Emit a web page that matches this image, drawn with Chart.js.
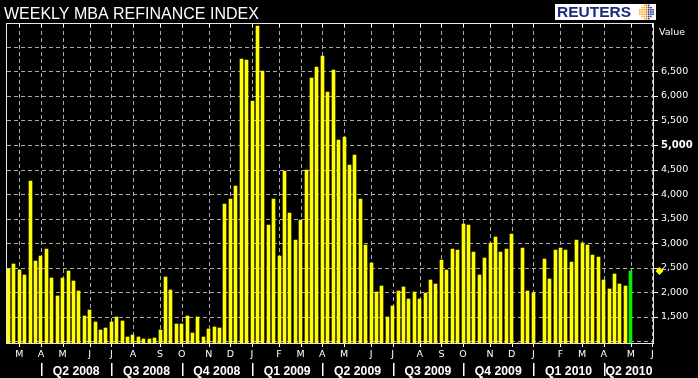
<!DOCTYPE html>
<html>
<head>
<meta charset="utf-8">
<title>Weekly MBA Refinance Index</title>
<script src="https://cdn.jsdelivr.net/npm/chart.js@4.4.1/dist/chart.umd.min.js"></script>
<style>
  html, body { margin: 0; padding: 0; background: #000; }
  #wrap { width: 698px; height: 378px; position: relative; }
</style>
</head>
<body>
<div id="wrap"><canvas id="myChart"></canvas></div>
<script>
// weekly periods (week ending Friday), first one in the chart
const firstWeek = '2008-02-22';
const weekCount = 120;

// MBA refinance index (null = no reading that week)
const refiIndex = [
  2480, 2570, 2450, 2350, 4270, 2630, 2735, 2880, 2295, 1925,
  2295, 2435, 2225, 2030, 1515, 1635, 1390, 1230, 1270, 1395,
  1495, 1415, 1090, 1130, 1090, 1040, 1040, 1070, 1230, 2310,
  2050, 1350, 1350, 1515, 1170, 1495, 1090, 1245, 1290, 1270,
  3800, 3900, 4170, 6755, 6735, 5905, 7415, 6500, 3375, 3900,
  2735, 4470, 3620, 3070, 3470, 4490, 6370, 6590, 6815, 6070,
  6530, 5100, 5170, 4600, 4805, 3900, 2960, 2605, 2000, 2120,
  1495, 1720, 2025, 2100, 1860, 2000, 1860, 1985, 2245, 2165,
  2660, 2450, 2880, 2860, 3390, 3370, 2815, 2355, 2700, 3005,
  3130, 2815, 2880, 3185, null, 2900, 2020, 1980, null, 2675,
  2265, 2860, 2900, 2860, 2610, 3060, 3000, 2960, 2755, 2715,
  2245, 2060, 2365, 2165, 2120, 2430
];

const yTicks = [1000, 1500, 2000, 2500, 3000, 3500, 4000, 4500, 5000, 5500, 6000, 6500, 7000];
const yLabelled = [1500, 2000, 2500, 3000, 3500, 4000, 4500, 5000, 5500, 6000, 6500];
const monthLetters = ['J', 'F', 'M', 'A', 'M', 'J', 'J', 'A', 'S', 'O', 'N', 'D'];
const quarters = ['Q2 2008', 'Q3 2008', 'Q4 2008', 'Q1 2009', 'Q2 2009', 'Q3 2009', 'Q4 2009', 'Q1 2010', 'Q2 2010'];

// week dates
const weeks = [];
const d0 = new Date(firstWeek + 'T00:00:00Z');
for (let i = 0; i < weekCount; i++) {
  weeks.push(new Date(d0.getTime() + i * 7 * 86400000).toISOString().slice(0, 10));
}
const monthOf = s => +s.slice(5, 7) - 1;

// first week of every month / quarter
const monthStarts = [];
for (let i = 1; i < weeks.length; i++) {
  if (monthOf(weeks[i]) !== monthOf(weeks[i - 1])) monthStarts.push(i);
}
const quarterStarts = monthStarts.filter(i => monthOf(weeks[i]) % 3 === 0);

const lastIdx = refiIndex.length - 1;
const tickFont = '"DejaVu Sans", Verdana, sans-serif';
const armFont = '"Liberation Sans", Arial, sans-serif';
const gridGray = '#aaaaaa';

// grid first, then the bars on top of it, then the furniture
const overlay = {
  id: 'overlay',
  beforeDatasetsDraw() {
    return false; // bars are drawn in afterDraw, over the grid
  },
  afterDraw(chart) {
    const c = chart.ctx, a = chart.chartArea, xs = chart.scales.x, ys = chart.scales.y;
    c.save();

    // dashed grid from the scale ticks (4 on, 3 off)
    c.fillStyle = gridGray;
    monthStarts.forEach(v => {
      const x = Math.round(xs.getPixelForValue(v));
      for (let y = a.top + 1; y < a.bottom; y += 7) {
        c.fillRect(x, y, 1, Math.min(4, a.bottom - y));
      }
    });
    yTicks.forEach(v => {
      const y = Math.round(ys.getPixelForValue(v));
      for (let x = a.left + 1; x < a.right; x += 7) {
        c.fillRect(x, y, Math.min(4, a.right - x), 1);
      }
    });

    // bars, kept on whole pixels and clipped to the plot
    c.save();
    c.beginPath();
    c.rect(a.left, a.top, a.right - a.left, a.bottom - a.top);
    c.clip();
    chart.getDatasetMeta(0).data.forEach(el => {
      if (el.y == null || isNaN(el.y)) return;
      el.x = Math.floor(el.x) + 0.5;
      el.y = Math.round(el.y);
      el.draw(c, a);
    });
    c.restore();

    // frame and tick marks
    c.fillStyle = '#e6e6e6';
    c.fillRect(a.left, a.top, 1, a.bottom - a.top);
    c.fillRect(a.left, a.top, a.right - a.left, 1);
    c.fillRect(a.left, Math.round(a.bottom), a.right - a.left + 1, 1);
    c.fillRect(Math.round(a.right), a.top, 1, a.bottom - a.top + 1);
    c.fillStyle = '#fff';
    monthStarts.forEach(v => {
      const x = Math.round(xs.getPixelForValue(v));
      c.fillRect(x, Math.round(a.bottom) + 1, 1, 3);
      c.fillRect(x, a.top + 1, 1, 3);
    });
    yLabelled.forEach(v => {
      const y = Math.round(ys.getPixelForValue(v));
      c.fillRect(Math.round(a.right) + 1, y, 4, 1);
    });

    // title
    c.fillStyle = '#fff';
    c.textAlign = 'left';
    c.textBaseline = 'alphabetic';
    c.font = '16px ' + armFont;
    c.fillText('WEEKLY MBA REFINANCE INDEX', 4, 18.5, 262);

    // logo
    c.fillStyle = '#fff';
    c.fillRect(555, 4, 101, 16);
    c.fillStyle = '#1c2a7c';
    c.font = 'bold 15.5px ' + armFont;
    c.fillText('REUTERS', 557, 17, 77);
    for (let gx = -3; gx <= 3; gx++) {
      for (let gy = -3; gy <= 3; gy++) {
        if (gx * gx + gy * gy > 10) continue;
        c.fillStyle = gx < 0 ? '#f5b325' : (gx === 0 ? '#e8731a' : '#24358f');
        c.fillRect(646.5 + gx * 2.2 - 0.8, 12 + gy * 2.2 - 0.8, 1.6, 1.6);
      }
    }

    // axis caption
    c.fillStyle = '#fff';
    c.font = '9.5px ' + tickFont;
    c.textBaseline = 'middle';
    c.fillText('Value', a.right + 6, 33);

    // latest value marker on the axis
    const dy = ys.getPixelForValue(refiIndex[lastIdx]);
    const dx = a.right + 6.5;
    c.fillStyle = '#ffff00';
    c.beginPath();
    c.moveTo(dx, dy - 4);
    c.lineTo(dx + 4, dy);
    c.lineTo(dx, dy + 4);
    c.lineTo(dx - 4, dy);
    c.closePath();
    c.fill();

    // quarter row
    c.fillStyle = '#fff';
    c.font = 'bold 13.5px ' + armFont;
    c.textAlign = 'center';
    c.textBaseline = 'alphabetic';
    quarterStarts.forEach((s, k) => {
      const x0 = xs.getPixelForValue(s);
      const x1 = k + 1 < quarterStarts.length ? xs.getPixelForValue(quarterStarts[k + 1]) : x0 + 70;
      const cx = Math.min((x0 + x1) / 2, a.right - 24);
      c.fillRect(Math.round(x0), 363, 1.5, 13);
      c.fillText(quarters[k], cx, 374.5, 47);
    });

    c.restore();
  }
};

const myChart = new Chart(document.getElementById('myChart'), {
  type: 'bar',
  data: {
    datasets: [{
      label: 'MBA refinance index',
      data: refiIndex.map((v, i) => ({ x: i, y: v })),
      backgroundColor: c => c.dataIndex === lastIdx ? '#00f000' : '#ffff00',
      barThickness: 3
    }]
  },
  options: {
    responsive: true,
    maintainAspectRatio: false,
    animation: false,
    layout: { padding: { left: 6, top: 23, right: 0, bottom: 0 } },
    plugins: {
      legend: { display: false },
      tooltip: { enabled: false }
    },
    scales: {
      x: {
        type: 'linear',
        offset: false,
        min: -0.46,
        max: weekCount - 0.9,
        afterBuildTicks: axis => { axis.ticks = monthStarts.map(v => ({ value: v })); },
        afterFit: axis => { axis.height = 35; },
        grid: { color: 'rgba(0,0,0,0)', tickColor: 'rgba(0,0,0,0)', tickLength: 4, offset: false },
        border: { color: '#e6e6e6' },
        ticks: {
          color: '#fff',
          autoSkip: false,
          maxRotation: 0,
          padding: 2,
          font: { family: tickFont, size: 9.5 },
          callback: v => monthLetters[monthOf(weeks[v])]
        }
      },
      y: {
        position: 'right',
        min: 965,
        max: 7485,
        afterBuildTicks: axis => { axis.ticks = yTicks.map(v => ({ value: v })); },
        afterFit: axis => { axis.width = 45; },
        grid: { color: 'rgba(0,0,0,0)', tickColor: 'rgba(0,0,0,0)', tickLength: 5 },
        border: { color: '#e6e6e6' },
        ticks: {
          color: '#fff',
          padding: 3,
          font: c => c.tick && c.tick.value === 5000
            ? { family: tickFont, size: 10, weight: 'bold' }
            : { family: tickFont, size: 9.5 },
          callback: v => yLabelled.includes(v) ? v.toLocaleString('en-US') : ''
        }
      }
    }
  },
  plugins: [overlay]
});
</script>
</body>
</html>
